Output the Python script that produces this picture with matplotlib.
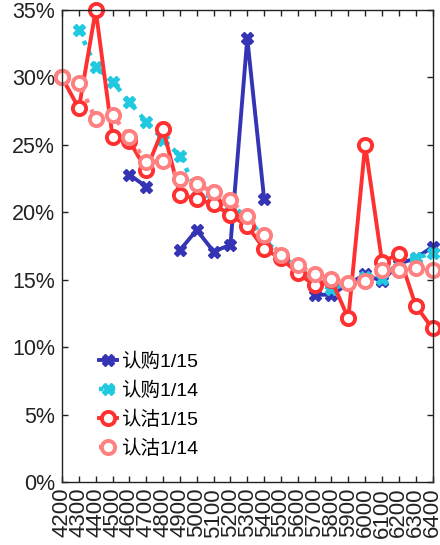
import numpy as np
import matplotlib.pyplot as plt
from matplotlib.ticker import FuncFormatter

plt.rcParams['font.family'] = ['Liberation Sans', 'Noto Sans CJK SC', 'DejaVu Sans']

strikes = np.arange(4200, 6401, 100)
nan = np.nan

# implied vol (%)
call_0115 = [nan, nan, nan, nan, 22.8, 21.9, nan, 17.2, 18.7, 17.1, 17.6, 32.9,
             21.0, nan, nan, 13.9, 13.9, 14.7, 15.4, 14.9, 16.2, 16.6, 17.45]
call_0114 = [nan, 33.5, 30.8, 29.7, 28.2, 26.7, 25.4, 24.2, 21.6, 21.0, 20.5, 19.7,
             18.0, 16.8, 15.9, 14.8, 14.3, 14.8, 15.2, 15.1, 16.3, 16.6, 17.0]
put_0115 = [30.0, 27.7, 35.0, 25.6, 25.3, 23.15, 26.2, 21.3, 21.0, 20.6, 19.8, 19.0,
            17.3, 16.6, 15.5, 14.6, 15.0, 12.15, 25.0, 16.35, 16.9, 13.1, 11.4]
put_0114 = [30.0, 29.6, 26.9, 27.2, 25.6, 23.7, 23.8, 22.5, 22.1, 21.5, 20.9, 19.7,
            18.3, 16.85, 16.1, 15.4, 15.05, 14.75, 14.9, 15.75, 15.75, 15.9, 15.75]

labels = ['认购1/15', '认购1/14', '认沽1/15', '认沽1/14']

fig = plt.figure(figsize=(4.4, 5.45), dpi=100)
ax = fig.add_axes([0.141, 0.115, 0.842, 0.8667])

lw = 2.8
ax.plot(strikes, np.array(call_0115) / 100, '-', color='#3434b4', lw=lw,
        marker='X', ms=8.5, mec='#3434b4', label=labels[0], clip_on=False)
ax.plot(strikes, np.array(call_0114) / 100, ':', color='#20c8e0', lw=lw + 0.4,
        marker='X', ms=8.5, mec='#20c8e0', label=labels[1], clip_on=False)
ax.plot(strikes, np.array(put_0115) / 100, '-', color='#ff3030', lw=lw,
        marker='o', ms=9.5, mfc='white', mec='#ff3030', mew=2.8,
        label=labels[2], clip_on=False)
ax.plot(strikes, np.array(put_0114) / 100, ':', color='#ff8080', lw=lw + 0.4,
        marker='o', ms=9.5, mfc='white', mec='#ff8080', mew=2.8,
        label=labels[3], clip_on=False)

ax.set_xlim(4200, 6400)
ax.set_ylim(0, 0.35)
ax.set_xticks(strikes)
ax.set_xticklabels([str(s) for s in strikes], rotation=90, fontsize=16)
ax.set_yticks(np.arange(0, 0.351, 0.05))
ax.yaxis.set_major_formatter(FuncFormatter(lambda v, p: '%d%%' % round(v * 100)))
ax.tick_params(axis='y', labelsize=15.5, pad=5)
ax.tick_params(axis='x', pad=4)
ax.tick_params(direction='in', top=True, right=True, length=4, width=1,
               colors='#222222')
for sp in ax.spines.values():
    sp.set_linewidth(1.0)
    sp.set_color('#222222')

ax.legend(loc='lower left', bbox_to_anchor=(0.08, 0.035), frameon=False,
          fontsize=14, handlelength=0.9, handletextpad=0.2, labelspacing=0.55,
          numpoints=1, borderaxespad=0)

fig.savefig('out.png', dpi=100)
